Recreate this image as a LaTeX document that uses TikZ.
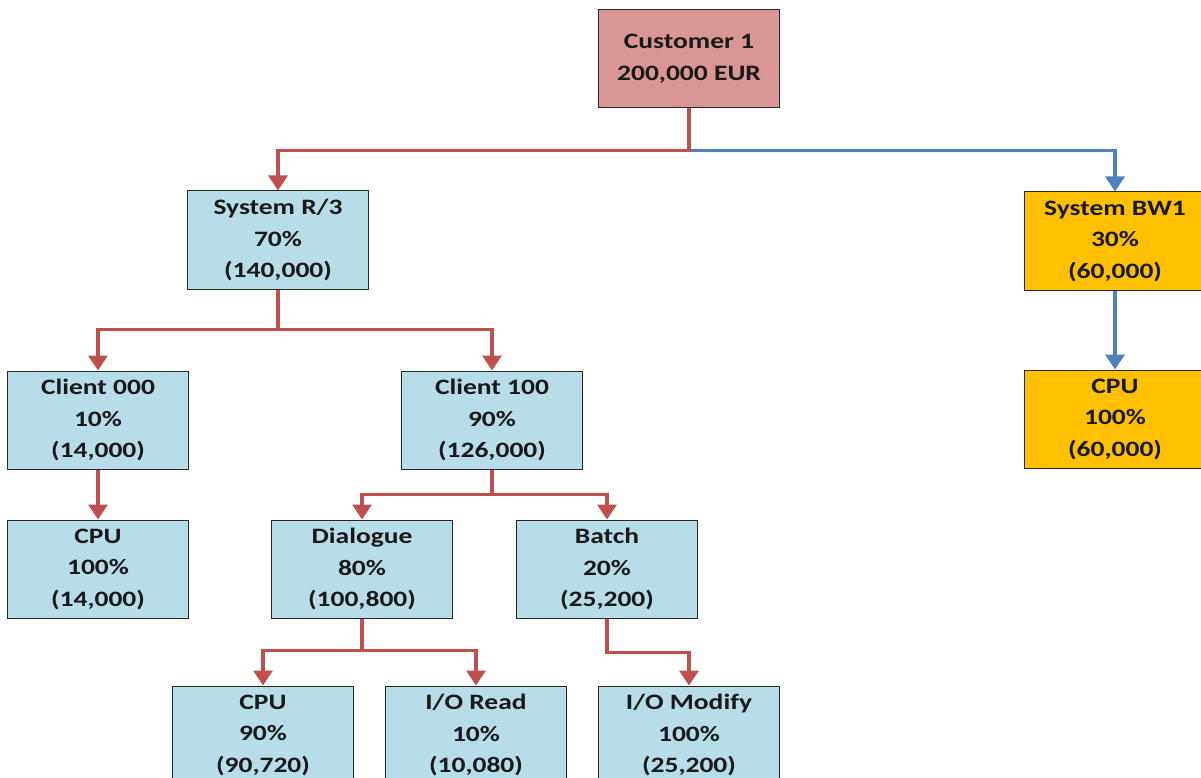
\documentclass[tikz,border=0pt]{standalone}
\usepackage{fontspec}
\setmainfont{Carlito}[FakeStretch=1.25]
\usetikzlibrary{arrows.meta}
\definecolor{custfill}{RGB}{217,150,148}
\definecolor{bluefill}{RGB}{183,222,232}
\definecolor{orgfill}{RGB}{255,192,0}
\definecolor{redline}{RGB}{192,80,77}
\definecolor{blueline}{RGB}{79,129,189}
\definecolor{boxborder}{RGB}{40,40,40}
\tikzset{
  box/.style={draw=boxborder, line width=1pt, minimum width=181pt, minimum height=98pt,
    inner sep=0pt, align=center, font=\fontsize{22}{31.5}\selectfont\bfseries, text=black!90},
  custbox/.style={box, fill=custfill},
  bluebox/.style={box, fill=bluefill},
  orgbox/.style={box, fill=orgfill},
  conn/.style={line width=3.5pt, -{Triangle[length=15pt,width=19pt]}},
  bconn/.style={conn, draw=blueline},
  rconn/.style={conn, draw=redline}
}
\begin{document}
\begin{tikzpicture}[x=1pt,y=-1pt]
\useasboundingbox (0,0) rectangle (1201,778);
\clip (0,0) rectangle (1201,778);
\fill[white] (0,0) rectangle (1201,778);
\node[custbox] (cust) at (689,59) {Customer 1\\200,000 EUR};
\node[bluebox] (r3) at (278,240) {System R/3\\70\%\\(140,000)};
\node[orgbox] (bw1) at (1115,241) {System BW1\\30\%\\(60,000)};
\node[orgbox] (cpubw) at (1115,419) {CPU\\100\%\\(60,000)};
\node[bluebox] (c000) at (98,420) {Client 000\\10\%\\(14,000)};
\node[bluebox] (c100) at (492,420) {Client 100\\90\%\\(126,000)};
\node[bluebox] (cpu0) at (98,569) {CPU\\100\%\\(14,000)};
\node[bluebox] (dlg) at (362,569) {Dialogue\\80\%\\(100,800)};
\node[bluebox] (bat) at (607,569) {Batch\\20\%\\(25,200)};
\node[bluebox] (cpu1) at (263,735) {CPU\\90\%\\(90,720)};
\node[bluebox] (ior) at (476,735) {I/O Read\\10\%\\(10,080)};
\node[bluebox] (iom) at (689,735) {I/O Modify\\100\%\\(25,200)};

\draw[bconn] (cust.south) ++(0,42) -| (bw1.north);
\draw[rconn] (cust.south) -- ++(0,42) -| (r3.north);
\draw[bconn] (bw1.south) -- (cpubw.north);
\draw[rconn] (r3.south) -- ++(0,40) -| (c000.north);
\draw[rconn] (r3.south) ++(0,40) -| (c100.north);
\draw[rconn] (c000.south) -- (cpu0.north);
\draw[rconn] (c100.south) -- ++(0,25) -| (dlg.north);
\draw[rconn] (c100.south) ++(0,25) -| (bat.north);
\draw[rconn] (dlg.south) -- ++(0,32) -| (cpu1.north);
\draw[rconn] (dlg.south) ++(0,32) -| (ior.north);
\draw[rconn] (bat.south) -- ++(0,34) -| (iom.north);
\end{tikzpicture}
\end{document}
